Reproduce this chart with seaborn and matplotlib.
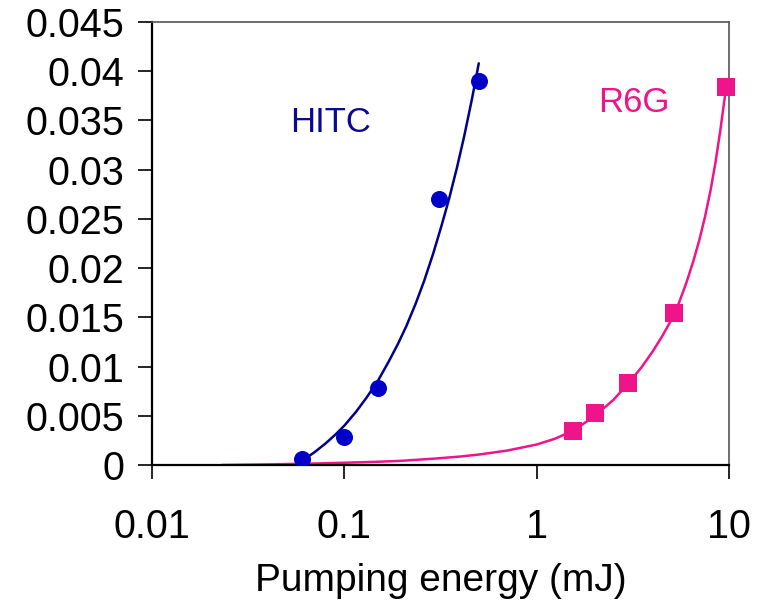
import matplotlib
matplotlib.use("Agg")
import matplotlib.pyplot as plt
import seaborn as sns
from matplotlib.ticker import FixedLocator, FixedFormatter, NullLocator

# Measured data points
hitc_x = [0.06, 0.1, 0.15, 0.31, 0.5]
hitc_y = [0.0006, 0.0028, 0.0078, 0.027, 0.039]
r6g_x = [1.55, 2.0, 3.0, 5.2, 9.7]
r6g_y = [0.0035, 0.0053, 0.0083, 0.0154, 0.0384]

# Trend curves
hitc_curve_x = [0.060, 0.070, 0.080, 0.090, 0.100, 0.115, 0.130, 0.150, 0.170,
                0.190, 0.210, 0.235, 0.260, 0.290, 0.320, 0.350, 0.385, 0.420,
                0.460, 0.500]
hitc_curve_y = [0.0004, 0.0013, 0.0022, 0.0031, 0.0040, 0.0054, 0.0068, 0.0086,
                0.0105, 0.0123, 0.0141, 0.0164, 0.0187, 0.0215, 0.0243, 0.0270,
                0.0302, 0.0334, 0.0371, 0.0408]
r6g_curve_x = [0.023, 0.04, 0.07, 0.1, 0.15, 0.2, 0.3, 0.4, 0.5, 0.7, 1.0, 1.25,
               1.55, 2.0, 2.5, 3.0, 3.5, 4.0, 4.5, 5.0, 5.5, 6.0, 6.5, 7.0, 7.5,
               8.0, 8.5, 9.0, 9.5, 9.75]
r6g_curve_y = [0.0, 0.00006, 0.00015, 0.00023, 0.00033, 0.00043, 0.00066, 0.00086,
               0.00106, 0.00146, 0.00208, 0.00268, 0.00350, 0.00495, 0.00660,
               0.0083, 0.0099, 0.0115, 0.0131, 0.0147, 0.0165, 0.0185, 0.0206,
               0.0228, 0.0252, 0.0278, 0.0307, 0.0339, 0.0373, 0.0390]

x_ticks = [0.01, 0.1, 1, 10]
x_tick_labels = ["0.01", "0.1", "1", "10"]
y_ticks = [0, 0.005, 0.01, 0.015, 0.02, 0.025, 0.03, 0.035, 0.04, 0.045]
y_tick_labels = ["0", "0.005", "0.01", "0.015", "0.02", "0.025", "0.03", "0.035", "0.04", "0.045"]

sns.set_theme(style="white")
plt.rcParams['font.family'] = ['Liberation Sans', 'DejaVu Sans']

fig = plt.figure(figsize=(7.67, 6.05), dpi=100)
ax = fig.add_axes([152/767, 1-465/605, (729-152)/767, (465-22)/605])

navy = "#00008B"
blue = "#0000C8"
pink = "#F0148A"

sns.lineplot(x=hitc_curve_x, y=hitc_curve_y, ax=ax, color=navy, linewidth=1.8,
             sort=False, estimator=None)
sns.lineplot(x=r6g_curve_x, y=r6g_curve_y, ax=ax, color=pink, linewidth=1.8,
             sort=False, estimator=None)
sns.scatterplot(x=hitc_x, y=hitc_y, ax=ax, color=blue, marker="o", s=150,
                edgecolor=blue, linewidth=0, zorder=5)
sns.scatterplot(x=r6g_x, y=r6g_y, ax=ax, color=pink, marker="s", s=180,
                edgecolor=pink, linewidth=0, zorder=5, clip_on=False)

ax.set_xscale("log")
ax.set_xlim(0.01, 10)
ax.set_ylim(0, 0.045)
ax.xaxis.set_major_locator(FixedLocator(x_ticks))
ax.xaxis.set_major_formatter(FixedFormatter(x_tick_labels))
ax.xaxis.set_minor_locator(NullLocator())
ax.yaxis.set_major_locator(FixedLocator(y_ticks))
ax.yaxis.set_major_formatter(FixedFormatter(y_tick_labels))

ax.tick_params(axis="both", which="major", direction="out", length=10, width=1.2,
               color="black", labelsize=28.5, labelcolor="black")
ax.tick_params(axis="y", pad=10, left=True)
ax.tick_params(axis="x", pad=21, bottom=True)

for side in ["left", "bottom"]:
    ax.spines[side].set_color("black")
    ax.spines[side].set_linewidth(1.6)
for side in ["top", "right"]:
    ax.spines[side].set_visible(True)
    ax.spines[side].set_color("#555555")
    ax.spines[side].set_linewidth(1.2)

ax.set_xlabel("Pumping energy (mJ)", fontsize=28, labelpad=12, color="black")
ax.set_ylabel("")

ax.text(0.0851, 0.0348, "HITC", color="#0A0A90", fontsize=25, ha="center", va="center")
ax.text(3.19, 0.0368, "R6G", color=pink, fontsize=25, ha="center", va="center")

fig.savefig("out.png", dpi=100)
